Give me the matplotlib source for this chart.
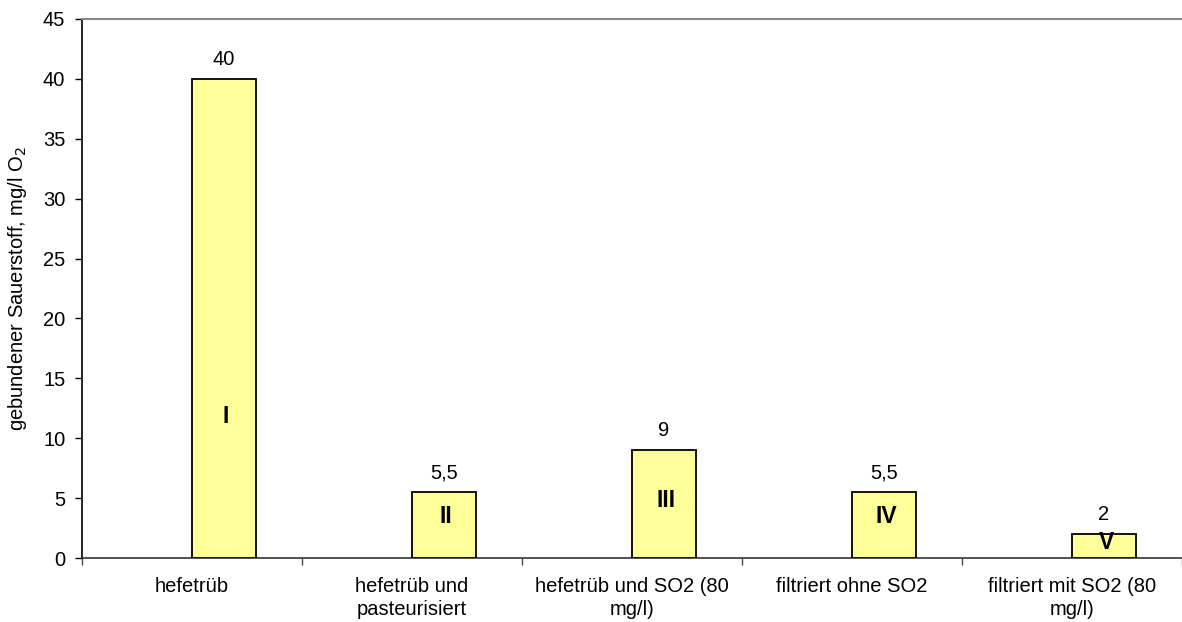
import matplotlib.pyplot as plt
import numpy as np

plt.rcParams['font.family'] = ['Liberation Sans', 'DejaVu Sans']

# Versuchsvarianten und gebundener Sauerstoff
kategorien = ['hefetrüb', 'hefetrüb und\npasteurisiert', 'hefetrüb und SO2 (80\nmg/l)',
              'filtriert ohne SO2', 'filtriert mit SO2 (80\nmg/l)']
werte = [40, 5.5, 9, 5.5, 2]
wert_texte = ['40', '5,5', '9', '5,5', '2']
roemisch = ['I', 'II', 'III', 'IV', 'V']
roemisch_y = [11.8, 3.5, 4.8, 3.5, 1.3]
y_ticks = [0, 5, 10, 15, 20, 25, 30, 35, 40, 45]

fs = 14.5

fig = plt.figure(figsize=(11.82, 6.22), dpi=100)
ax = fig.add_axes([82 / 1182, 1 - 558 / 622, 1 - 82 / 1182, (558 - 19) / 622])

x = np.arange(len(kategorien))
breite = 0.29
balken = ax.bar(x, werte, width=breite, align='edge', color='#FFFF99',
                edgecolor='black', linewidth=1.3, zorder=3)

# Werte über den Balken
for xi, w, t in zip(x, werte, wert_texte):
    ax.annotate(t, (xi + breite / 2, w), xytext=(0, 7), textcoords='offset points',
                ha='center', va='bottom', fontsize=fs)

# Römische Nummern in den Balken
for xi, ry, r in zip(x, roemisch_y, roemisch):
    ax.text(xi + breite / 2 + 0.01, ry, r, ha='center', va='center',
            fontsize=16.5, fontweight='bold')

ax.set_xlim(-0.5, len(kategorien) - 0.5)
ax.set_ylim(0, 45)
ax.set_yticks(y_ticks)
ax.tick_params(axis='y', direction='out', length=5, width=1, labelsize=fs, pad=7)

# Striche zwischen den Kategorien, Beschriftung mittig
ax.set_xticks(np.arange(len(kategorien) + 1) - 0.5)
ax.set_xticklabels([])
ax.tick_params(axis='x', which='major', direction='out', length=5, width=1, color='#444444')
ax.set_xticks(x, minor=True)
ax.set_xticklabels(kategorien, minor=True, fontsize=fs, linespacing=1.25)
ax.tick_params(axis='x', which='minor', length=0, pad=14)

ax.set_ylabel('gebundener Sauerstoff, mg/l O$_2$', fontsize=fs, labelpad=10)

ax.spines['right'].set_visible(False)
ax.spines['top'].set_color('#888888')
ax.spines['top'].set_linewidth(1.5)
ax.spines['left'].set_linewidth(1.2)
ax.spines['bottom'].set_linewidth(1.2)
ax.spines['bottom'].set_color('#333333')

fig.savefig('out.png', dpi=100)
